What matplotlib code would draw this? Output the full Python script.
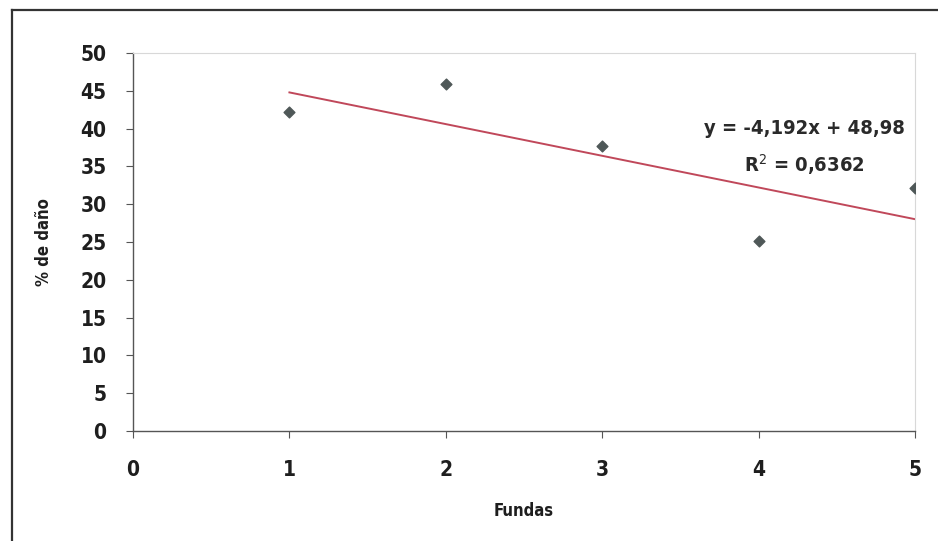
import numpy as np
import matplotlib.pyplot as plt
from matplotlib.lines import Line2D

plt.rcParams['font.family'] = ['DejaVu Sans']
plt.rcParams['font.stretch'] = 'condensed'

# data
fundas = [1, 2, 3, 4, 5]
dano = [42.2, 45.9, 37.7, 25.1, 32.1]
slope = -4.192
intercept = 48.98
r2_txt = "0,6362"
eq_txt = "y = -4,192x + 48,98"

fig = plt.figure(figsize=(9.38, 5.41), dpi=100)
ax = fig.add_axes([0.1418, 0.2033, 0.8337, 0.6987])

ax.scatter(fundas, dano, marker='D', s=30, color='#4f5858', zorder=3)
xt = np.array([fundas[0], fundas[-1]])
ax.plot(xt, slope*xt + intercept, color='#c0485a', lw=1.4, zorder=2)

ax.set_xlim(0, 5)
ax.set_ylim(0, 50)
ax.set_xticks(range(0, 6))
ax.set_yticks(range(0, 55, 5))

for sp in ['top', 'right']:
    ax.spines[sp].set_color('#d8d8d8')
    ax.spines[sp].set_linewidth(0.8)
for sp in ['left', 'bottom']:
    ax.spines[sp].set_color('#555555')
    ax.spines[sp].set_linewidth(1.0)

ax.tick_params(axis='y', length=5, width=0.8, color='#555555', pad=14,
               labelsize=15)
ax.tick_params(axis='x', length=5, width=0.8, color='#555555', pad=16,
               labelsize=15)
for lab in ax.get_xticklabels() + ax.get_yticklabels():
    lab.set_fontweight('bold')
    lab.set_fontstretch('condensed')
    lab.set_color('#1e1e1e')

ax.set_xlabel("Fundas", fontsize=12, fontweight='bold', color='#1e1e1e',
              labelpad=16, fontstretch='condensed')
ax.set_ylabel("% de daño", fontsize=12, fontweight='bold', color='#1e1e1e',
              labelpad=20, fontstretch='condensed')

ax.text(0.858, 0.80, eq_txt, transform=ax.transAxes, ha='center', va='center',
        fontsize=14.5, fontweight='bold', color='#2a2a2a', fontstretch='condensed')
ax.text(0.858, 0.705, "R$^2$ = " + r2_txt, transform=ax.transAxes, ha='center',
        va='center', fontsize=14.5, fontweight='bold', color='#2a2a2a',
        fontstretch='condensed')

# scanned frame (left and top edges)
fig.add_artist(Line2D([12/938, 12/938], [0, 1 - 10/541], color='#333333',
                      lw=1.6, transform=fig.transFigure))
fig.add_artist(Line2D([12/938, 1], [1 - 10/541, 1 - 10/541], color='#333333',
                      lw=1.6, transform=fig.transFigure))

fig.savefig("out.png", dpi=100)
